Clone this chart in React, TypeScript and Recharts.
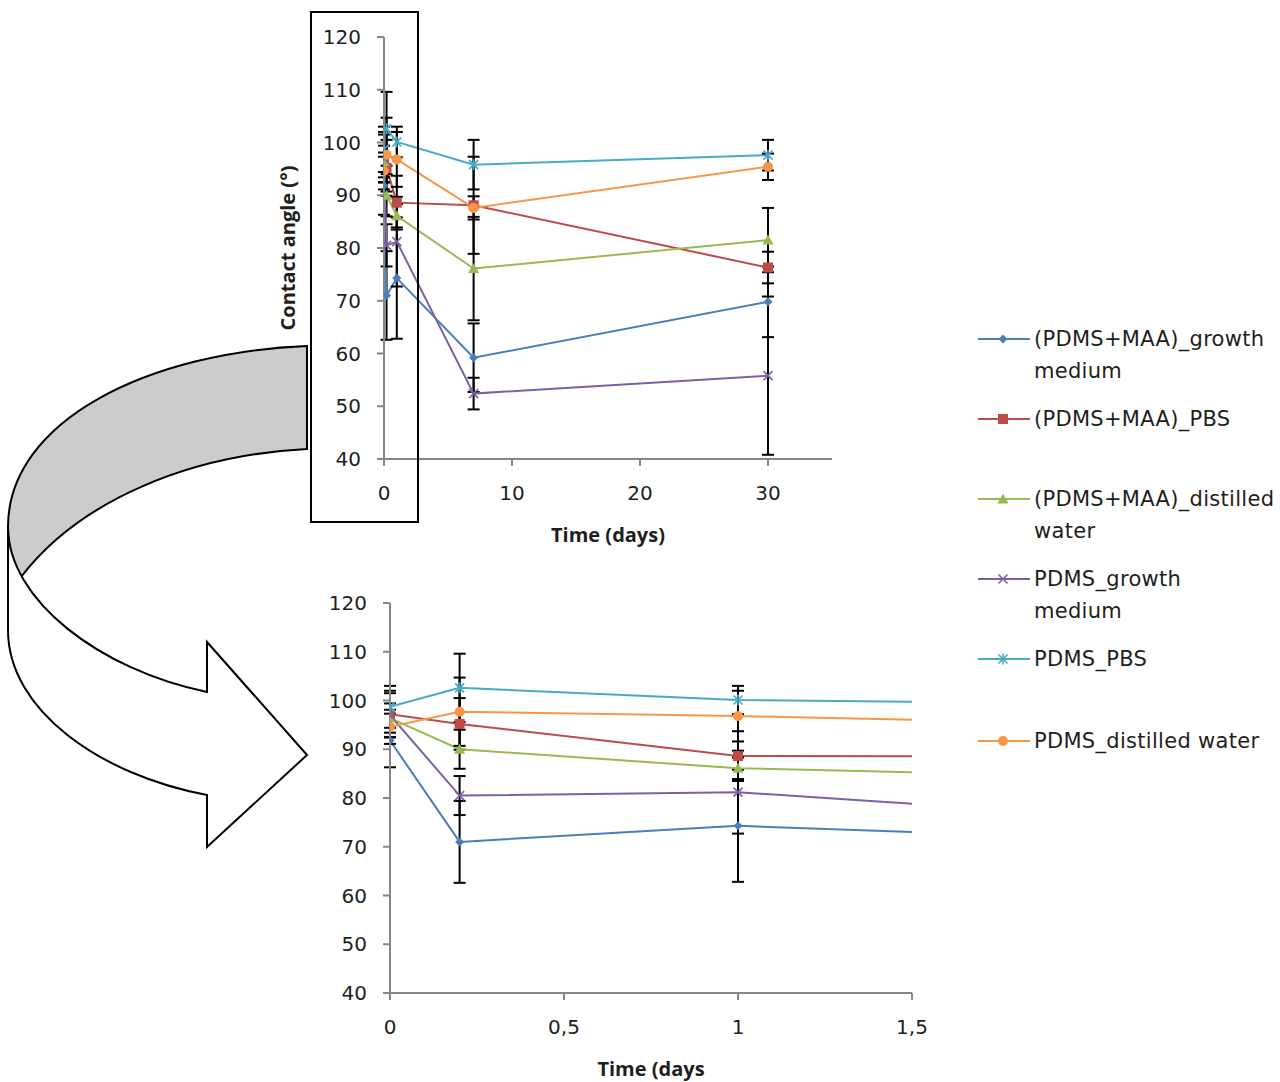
import React from 'react'
import { LineChart, Line, XAxis, YAxis, ErrorBar } from 'recharts'

// sampling times (days)
const days = [0, 0.2, 1, 7, 30]

// contact angle (°), mean and ± deviation per sampling time
const maaGrowth = [91.8, 71.0, 74.3, 59.2, 69.8]
const maaGrowthErr = [5.5, 8.4, 11.5, 6.5, 6.7]
const maaPbs = [97.2, 95.2, 88.6, 88.1, 76.3]
const maaPbsErr = [4.8, 5.3, 5.1, 9.2, 3.0]
const maaWater = [96.4, 90.0, 86.1, 76.1, 81.5]
const maaWaterErr = [3.0, 4.0, 2.2, 9.8, 6.1]
const pdmsGrowth = [97.0, 80.5, 81.2, 52.4, 55.8]
const pdmsGrowthErr = [4.5, 4.0, 8.5, 3.0, 15.0]
const pdmsPbs = [98.7, 102.6, 100.1, 95.8, 97.6]
const pdmsPbsErr = [4.3, 7.0, 2.9, 4.7, 2.9]
const pdmsWater = [94.6, 97.7, 96.8, 87.6, 95.4]
const pdmsWaterErr = [3.5, 7.0, 5.2, 2.2, 2.5]

const yTicks = [40, 50, 60, 70, 80, 90, 100, 110, 120]
const longTicks = [0, 10, 20, 30]
const shortTicks = [0, 0.5, 1, 1.5]

type Shape = 'diamond' | 'square' | 'triangle' | 'cross' | 'star' | 'circle'

const series: { key: string; name: string; color: string; shape: Shape; values: number[]; errs: number[] }[] = [
  { key: 'maaGrowth', name: '(PDMS+MAA)_growth\nmedium', color: '#4a7ebb', shape: 'diamond', values: maaGrowth, errs: maaGrowthErr },
  { key: 'maaPbs', name: '(PDMS+MAA)_PBS', color: '#be4b48', shape: 'square', values: maaPbs, errs: maaPbsErr },
  { key: 'maaWater', name: '(PDMS+MAA)_distilled\nwater', color: '#98b954', shape: 'triangle', values: maaWater, errs: maaWaterErr },
  { key: 'pdmsGrowth', name: 'PDMS_growth\nmedium', color: '#7d60a0', shape: 'cross', values: pdmsGrowth, errs: pdmsGrowthErr },
  { key: 'pdmsPbs', name: 'PDMS_PBS', color: '#46aac5', shape: 'star', values: pdmsPbs, errs: pdmsPbsErr },
  { key: 'pdmsWater', name: 'PDMS_distilled water', color: '#f79646', shape: 'circle', values: pdmsWater, errs: pdmsWaterErr },
]

const rows = days.map((day, i) => {
  const row: Record<string, number> = { day }
  series.forEach((s) => {
    row[s.key] = s.values[i]
    row[s.key + 'Err'] = s.errs[i]
  })
  return row
})

// legend rows sit at irregular heights, like the original sheet
const legendTops = [323, 403, 483, 563, 643, 725]

const AXIS = '#878787'
const TEXT = '#1e1e1e'
const tickStyle = { fontSize: 20, fill: TEXT, fontFamily: 'DejaVu Sans' }
const titleFont = { fontFamily: 'Open Sans', fontWeight: 700, fontSize: 20, fill: TEXT }

function Marker({ shape, cx, cy, color }: { shape: Shape; cx: number; cy: number; color: string }) {
  switch (shape) {
    case 'diamond':
      return <polygon points={`${cx},${cy - 4.5} ${cx + 4.5},${cy} ${cx},${cy + 4.5} ${cx - 4.5},${cy}`} fill={color} />
    case 'square':
      return <rect x={cx - 5} y={cy - 5} width={10} height={10} fill={color} />
    case 'triangle':
      return <polygon points={`${cx},${cy - 5.5} ${cx + 5.5},${cy + 4.5} ${cx - 5.5},${cy + 4.5}`} fill={color} />
    case 'cross':
      return (
        <g stroke={color} strokeWidth={1.6}>
          <line x1={cx - 4.5} y1={cy - 4.5} x2={cx + 4.5} y2={cy + 4.5} />
          <line x1={cx - 4.5} y1={cy + 4.5} x2={cx + 4.5} y2={cy - 4.5} />
        </g>
      )
    case 'star':
      return (
        <g stroke={color} strokeWidth={1.6}>
          <line x1={cx - 4.5} y1={cy - 4.5} x2={cx + 4.5} y2={cy + 4.5} />
          <line x1={cx - 4.5} y1={cy + 4.5} x2={cx + 4.5} y2={cy - 4.5} />
          <line x1={cx} y1={cy - 5.5} x2={cx} y2={cy + 5.5} />
        </g>
      )
    default:
      return <circle cx={cx} cy={cy} r={5} fill={color} />
  }
}

function YTitle(props: any) {
  const { viewBox } = props
  const x = viewBox.x + 27
  const y = viewBox.y + viewBox.height / 2
  return (
    <text x={x} y={y} transform={`rotate(-90 ${x} ${y})`} textAnchor="middle" dominantBaseline="central" {...titleFont}>
      Contact angle (°)
    </text>
  )
}

function XTitle(props: any) {
  const { viewBox, value } = props
  return (
    <text x={viewBox.x + viewBox.width / 2} y={viewBox.y + 75} textAnchor="middle" dominantBaseline="central" {...titleFont}>
      {value}
    </text>
  )
}

function renderLines() {
  return series.map((s) => (
    <Line
      key={s.key}
      type="linear"
      dataKey={s.key}
      name={s.name}
      stroke={s.color}
      strokeWidth={2}
      isAnimationActive={false}
      dot={(p: any) => <Marker key={`${s.key}-${p.index}`} shape={s.shape} cx={p.cx} cy={p.cy} color={s.color} />}
      activeDot={false}
    >
      <ErrorBar dataKey={s.key + 'Err'} direction="y" width={6} stroke="#000" strokeWidth={2} isAnimationActive={false} />
    </Line>
  ))
}

function Legend() {
  return (
    <>
      {series.map((s, i) => (
        <div key={s.key} style={{ position: 'absolute', left: 976, top: legendTops[i], display: 'flex', alignItems: 'flex-start' }}>
          <svg width={58} height={32} style={{ flex: 'none' }}>
            <line x1={2} y1={16} x2={54} y2={16} stroke={s.color} strokeWidth={2} />
            <Marker shape={s.shape} cx={27} cy={16} color={s.color} />
          </svg>
          <div style={{ fontFamily: 'DejaVu Sans', fontSize: 21, letterSpacing: 0.3, lineHeight: '32px', color: TEXT, whiteSpace: 'pre-line' }}>
            {s.name}
          </div>
        </div>
      ))}
    </>
  )
}

function Arrow() {
  return (
    <svg width={1280} height={1082} style={{ position: 'absolute', left: 0, top: 0, pointerEvents: 'none' }}>
      {/* back face of the curved arrow */}
      <path
        d="M307,346 C150,352 8,420 8,527 C8,545 12,562 21,577 C80,500 190,455 307,449 Z"
        fill="#cccccc"
        stroke="#000"
        strokeWidth={2}
      />
      {/* front face with the head */}
      <path
        d="M8,527 L8,630 C8,710 100,775 207,795 L207,847 L307,755 L207,642 L207,692 C100,670 8,600 8,527 Z"
        fill="#ffffff"
        stroke="#000"
        strokeWidth={2}
      />
      {/* frame around the first day of the long run */}
      <rect x={311} y={12} width={107} height={510} fill="none" stroke="#000" strokeWidth={2} />
    </svg>
  )
}

export default function App() {
  return (
    <div style={{ position: 'absolute', left: 0, top: 0, width: 1280, height: 1082, background: '#fff', overflow: 'hidden' }}>
      <div style={{ position: 'absolute', left: 260, top: 0 }}>
        <LineChart width={600} height={560} data={rows} margin={{ top: 37, right: 28, left: 0, bottom: 21 }}>
          <XAxis
            dataKey="day"
            type="number"
            domain={[0, 35]}
            ticks={longTicks}
            allowDataOverflow
            height={80}
            tick={tickStyle}
            tickSize={7}
            tickMargin={20}
            stroke={AXIS}
            strokeWidth={2}
            label={<XTitle value="Time (days)" />}
          />
          <YAxis
            type="number"
            domain={[40, 120]}
            ticks={yTicks}
            width={124}
            tick={tickStyle}
            tickSize={7}
            tickMargin={16}
            stroke={AXIS}
            strokeWidth={2}
            label={<YTitle />}
          />
          {renderLines()}
        </LineChart>
      </div>
      <div style={{ position: 'absolute', left: 260, top: 560 }}>
        <LineChart width={700} height={522} data={rows} margin={{ top: 43, right: 48, left: 0, bottom: 9 }}>
          <XAxis
            dataKey="day"
            type="number"
            domain={[0, 1.5]}
            ticks={shortTicks}
            allowDataOverflow
            height={80}
            tick={tickStyle}
            tickSize={7}
            tickMargin={20}
            tickFormatter={(v: number) => String(v).replace('.', ',')}
            stroke={AXIS}
            strokeWidth={2}
            label={<XTitle value="Time (days" />}
          />
          <YAxis
            type="number"
            domain={[40, 120]}
            ticks={yTicks}
            width={130}
            tick={tickStyle}
            tickSize={7}
            tickMargin={16}
            stroke={AXIS}
            strokeWidth={2}
          />
          {renderLines()}
        </LineChart>
      </div>
      <Legend />
      <Arrow />
    </div>
  )
}
